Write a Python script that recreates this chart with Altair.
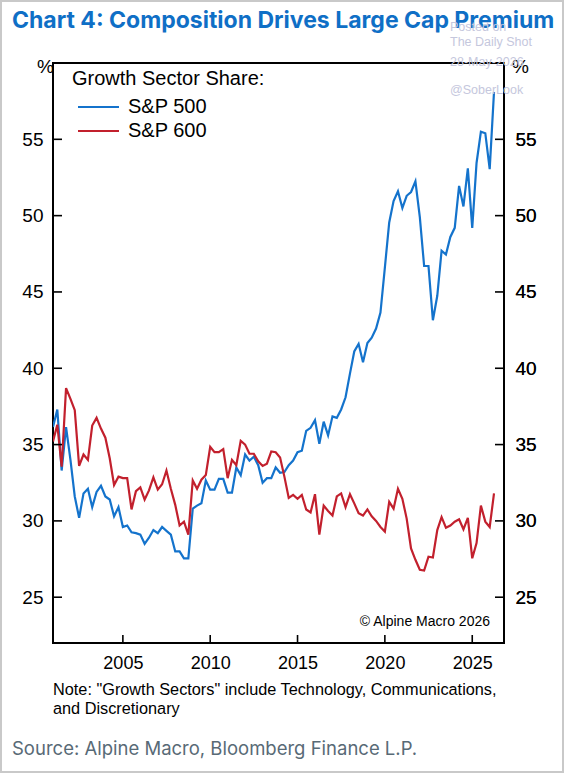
import altair as alt
import pandas as pd

# Quarterly share of index market cap in growth sectors (%), starting 2001 Q1
first_quarter = "2001-01-01"
sp500_share = [
    36.15, 37.3, 33.3, 36.15, 34.0, 31.6, 30.2, 31.8, 32.1, 30.9,
    31.9, 32.3, 31.6, 31.4, 30.3, 30.9, 29.6, 29.7, 29.25, 29.2,
    29.1, 28.5, 28.9, 29.4, 29.2, 29.6, 29.35, 29.1, 28.0, 28.0,
    27.55, 27.55, 30.8, 31.0, 31.15, 32.65, 32.05, 32.05, 32.75, 32.75,
    31.85, 31.85, 33.5, 33.0, 34.35, 33.95, 34.2, 33.65, 32.5, 32.8,
    32.8, 33.5, 33.15, 33.2, 33.65, 33.95, 34.5, 34.6, 35.9, 36.1,
    36.6, 35.05, 36.5, 35.6, 36.85, 36.75, 37.3, 38.1, 39.65, 41.1,
    41.6, 40.4, 41.65, 42.0, 42.6, 43.65, 46.6, 49.55, 50.95, 51.6,
    50.5, 51.3, 51.55, 52.25, 49.9, 46.7, 46.7, 43.15, 44.75, 47.7,
    47.45, 48.6, 49.2, 51.95, 50.6, 53.1, 49.2, 53.45, 55.5, 55.4,
    53.05, 58.1,
]
sp600_share = [
    35.2, 36.3, 33.55, 38.7, 38.0, 37.25, 33.6, 34.35, 34.0, 36.25,
    36.75, 36.05, 35.45, 34.1, 32.35, 32.9, 32.8, 32.8, 30.75, 31.95,
    32.2, 31.4, 32.0, 32.85, 32.05, 32.4, 33.3, 32.1, 31.05, 29.7,
    29.95, 29.1, 32.65, 32.1, 32.7, 33.0, 34.85, 34.5, 34.5, 34.7,
    32.8, 34.0, 33.65, 35.25, 35.0, 34.4, 34.4, 33.9, 33.6, 33.75,
    34.55, 34.5, 34.15, 32.9, 31.5, 31.7, 31.45, 31.7, 30.75, 30.55,
    31.75, 29.1, 31.0, 30.65, 30.35, 31.6, 31.8, 30.9, 31.75, 31.15,
    30.5, 30.35, 30.75, 30.3, 30.0, 29.6, 29.3, 31.25, 30.8, 32.1,
    31.45, 30.15, 28.2, 27.45, 26.8, 26.75, 27.65, 27.6, 29.4, 30.25,
    29.55, 29.7, 29.95, 30.1, 29.45, 30.2, 27.55, 28.55, 31.0, 29.95,
    29.6, 31.8,
]
series_names = ["S&P 500", "S&P 600"]
series_colors = ["#1473cc", "#c2202d"]
y_tick_values = [25, 30, 35, 40, 45, 50, 55]
x_tick_years = [2005, 2010, 2015, 2020, 2025]

title_text = "Chart 4: Composition Drives Large Cap Premium"
legend_title = "Growth Sector Share:"
note_lines = [
    'Note: "Growth Sectors" include Technology, Communications,',
    "and Discretionary",
]
copyright_text = "\u00a9 Alpine Macro 2026"
source_text = "Source: Alpine Macro, Bloomberg Finance L.P."
watermark_lines = ["Posted on", "The Daily Shot", "28-May-2026", "@SoberLook"]

W, H = 451, 580
SANS = "Liberation Sans, Arial, sans-serif"

n = len(sp500_share)
quarters = list(pd.date_range(first_quarter, periods=n, freq="QS"))
df = pd.DataFrame({
    "date": quarters + quarters,
    "share": sp500_share + sp600_share,
    "series": [series_names[0]] * n + [series_names[1]] * n,
})

x_scale = alt.Scale(domain=[alt.DateTime(year=2001, month=1, date=1),
                            alt.DateTime(year=2026, month=10, date=27)])
y_scale = alt.Scale(domain=[22, 60], nice=False, zero=False)
color_scale = alt.Scale(domain=series_names, range=series_colors)

# Ticks are drawn as inward rules below, so the axes only carry labels
x_axis = alt.Axis(values=[alt.DateTime(year=y, month=1, date=1) for y in x_tick_years],
                  format="%Y", ticks=False, domain=False, grid=False,
                  labelPadding=11, labelFontSize=18, labelFont=SANS,
                  labelColor="black")
y_axis_left = alt.Axis(orient="left", values=y_tick_values, ticks=False,
                       domain=False, grid=False, labelPadding=10,
                       labelFontSize=19, labelFont=SANS, labelColor="black")
y_axis_right = alt.Axis(orient="right", values=y_tick_values, ticks=False,
                        domain=False, grid=False, labelPadding=11,
                        labelFontSize=19, labelFont=SANS, labelColor="black")

lines = alt.Chart(df).mark_line(strokeWidth=2.2, clip=True).encode(
    x=alt.X("date:T", scale=x_scale, title=None, axis=x_axis),
    y=alt.Y("share:Q", scale=y_scale, title=None, axis=y_axis_left),
    color=alt.Color("series:N", scale=color_scale, legend=None),
    detail="series:N",
)

y_ticks_df = pd.DataFrame({"v": y_tick_values})
left_ticks = alt.Chart(y_ticks_df).mark_rule(color="black", strokeWidth=1.6).encode(
    y=alt.Y("v:Q", scale=y_scale, title=None, axis=y_axis_right),
    x=alt.value(0), x2=alt.value(9),
)
right_ticks = alt.Chart(y_ticks_df).mark_rule(color="black", strokeWidth=1.6).encode(
    y=alt.Y("v:Q", scale=y_scale, title=None, axis=y_axis_right),
    x=alt.value(W - 9), x2=alt.value(W),
)
x_ticks_df = pd.DataFrame({"d": [pd.Timestamp(year=y, month=1, day=1) for y in x_tick_years]})
bottom_ticks = alt.Chart(x_ticks_df).mark_rule(color="black", strokeWidth=1.6).encode(
    x=alt.X("d:T", scale=x_scale, title=None, axis=x_axis),
    y=alt.value(H - 8), y2=alt.value(H),
)


def label(text, x, y, size, color="black", font=SANS, weight="normal",
          align="left", baseline="alphabetic"):
    return alt.Chart(pd.DataFrame({"t": [text]})).mark_text(
        align=align, baseline=baseline, fontSize=size, font=font,
        fontWeight=weight, color=color,
    ).encode(x=alt.value(x), y=alt.value(y), text="t:N")


def swatch(color, x1, x2, y):
    return alt.Chart(pd.DataFrame({"c": [color]})).mark_rule(
        color=color, strokeWidth=2.2).encode(
        x=alt.value(x1), x2=alt.value(x2), y=alt.value(y))


border = alt.Chart(pd.DataFrame({"b": [0]})).mark_rect(
    fillOpacity=0, stroke="#c9c9c9", strokeWidth=2).encode(
    x=alt.value(-52), x2=alt.value(W + 59), y=alt.value(-62), y2=alt.value(H + 129))

texts = [
    label(title_text, -41, -35, 23, color="#0f6fc6", font="Inter, sans-serif", weight="bold"),
    label("%", -16, 10, 19, align="left"),
    label("%", 459, 10, 19, align="left"),
    label(legend_title, 19, 22, 20),
    swatch(series_colors[0], 25, 66, 44),
    label(series_names[0], 75, 50, 20),
    swatch(series_colors[1], 25, 66, 68),
    label(series_names[1], 75, 74, 20),
    label(copyright_text, 437, 563, 14, align="right"),
    label(note_lines[0], 0, 632, 16.3),
    label(note_lines[1], 0, 651, 16.3),
    label(source_text, -41, 692, 18.5, color="#586a76", font="Inter, sans-serif"),
]
watermark = [
    label(watermark_lines[0], 397, -32, 12.5, color="#c5c7dd"),
    label(watermark_lines[1], 397, -17, 12.5, color="#c5c7dd"),
    label(watermark_lines[2], 397, 3, 12.5, color="#c5c7dd"),
    label(watermark_lines[3], 397, 31, 12.5, color="#c5c7dd"),
]

chart = alt.layer(
    border, lines, left_ticks, right_ticks, bottom_ticks, *texts, *watermark
).properties(
    width=W, height=H,
    padding={"left": 53, "top": 63, "right": 60, "bottom": 130},
    autosize=alt.AutoSizeParams(type="none"),
    background="white",
).configure_view(stroke="black", strokeWidth=2)

chart.save("out.html", embed_options={"renderer": "svg", "actions": False})
